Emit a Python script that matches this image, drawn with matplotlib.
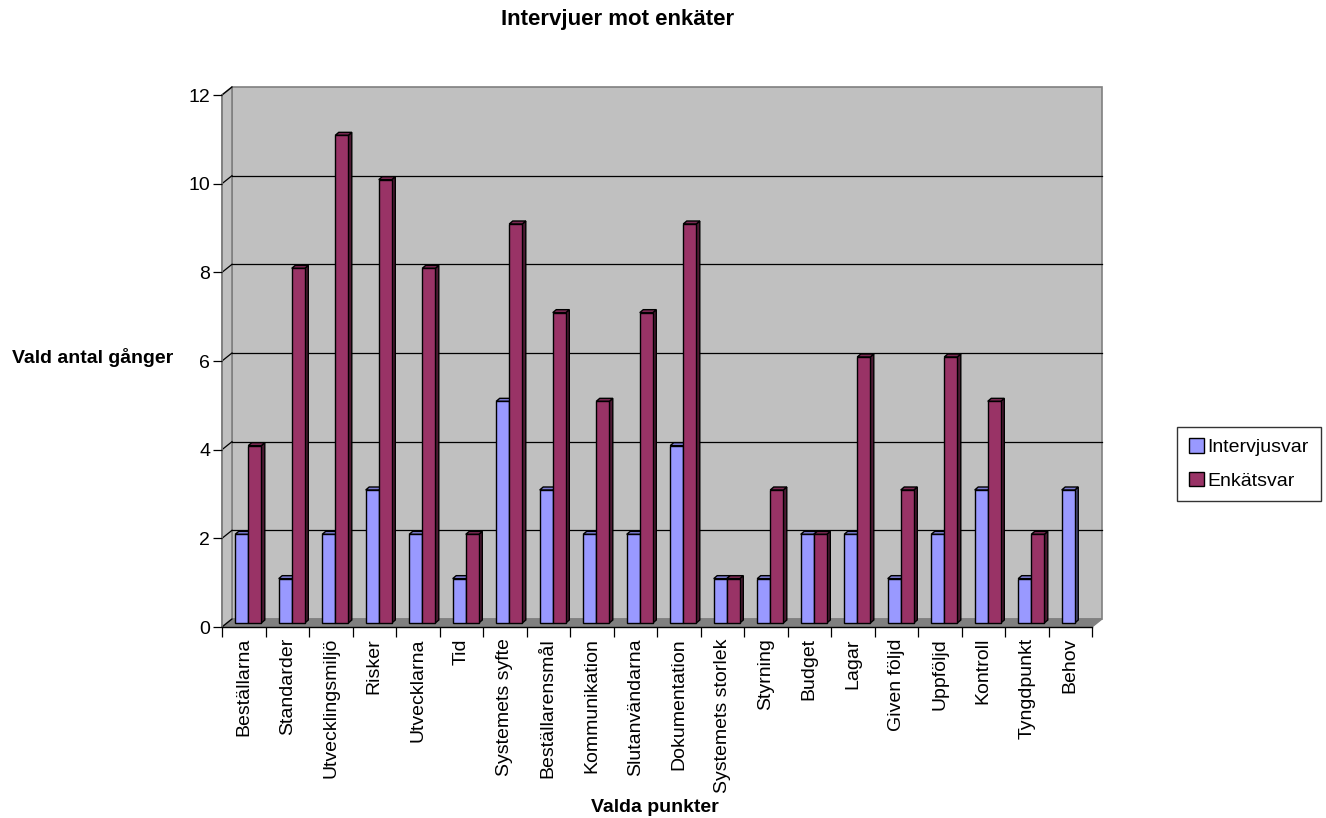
import matplotlib.pyplot as plt
from matplotlib.patches import Polygon, Patch

plt.rcParams['font.family'] = ['Liberation Sans', 'DejaVu Sans']

# -----------------------------------------------------------------------------
# Data
# -----------------------------------------------------------------------------
categories = ['Beställarna', 'Standarder', 'Utvecklingsmiljö', 'Risker', 'Utvecklarna',
              'Tid', 'Systemets syfte', 'Beställarensmål', 'Kommunikation', 'Slutanvändarna',
              'Dokumentation', 'Systemets storlek', 'Styrning', 'Budget', 'Lagar',
              'Given följd', 'Uppföljd', 'Kontroll', 'Tyngdpunkt', 'Behov']
intervju = [2, 1, 2, 3, 2, 1, 5, 3, 2, 2, 4, 1, 1, 2, 2, 1, 2, 3, 1, 3]
enkat = [4, 8, 11, 10, 8, 2, 9, 7, 5, 7, 9, 1, 3, 2, 6, 3, 6, 5, 2, 0]
series_names = ['Intervjusvar', 'Enkätsvar']
yticks = [0, 2, 4, 6, 8, 10, 12]

# colours: front, top, side
blue = ('#9999FF', '#7B7BD0', '#4D4D80')
plum = ('#993366', '#7A2952', '#4D1A33')

# -----------------------------------------------------------------------------
# Figure and front plane of the 3D box
# -----------------------------------------------------------------------------
W, H = 1326, 818
fig = plt.figure(figsize=(W / 100, H / 100), dpi=100)
ax_l, ax_b, ax_w, ax_h = 222, 627, 870, 532
ax = fig.add_axes([ax_l / W, (H - ax_b) / H, ax_w / W, ax_h / H])
n = len(categories)
ax.set_xlim(0, n)
ax.set_ylim(0, 12)
ax.patch.set_visible(False)

ux = n / ax_w      # data units per pixel
uy = 12 / ax_h

# wall depth and bar placement (pixels -> data)
wx, wy = 10 * ux, 8 * uy
mx, my = 4.5 * ux, 4 * uy
bx, by = 3.5 * ux, 3 * uy

# back wall, left wall, floor
ax.add_patch(Polygon([(wx, wy), (n + wx, wy), (n + wx, 12 + wy), (wx, 12 + wy)],
                     closed=True, fc='#C0C0C0', ec='#808080', lw=1.2, clip_on=False, zorder=0))
ax.add_patch(Polygon([(0, 0), (wx, wy), (wx, 12 + wy), (0, 12)],
                     closed=True, fc='#C0C0C0', ec='#808080', lw=1.2, clip_on=False, zorder=0))
ax.add_patch(Polygon([(0, 0), (n, 0), (n + wx, wy), (wx, wy)],
                     closed=True, fc='#808080', ec='#808080', lw=1, clip_on=False, zorder=0.5))

# gridlines on back wall and diagonals on left wall
for y in yticks:
    if 0 < y < 12:
        ax.plot([wx, n + wx], [y + wy, y + wy], color='black', lw=0.9, clip_on=False, zorder=0.6)
    ax.plot([0, wx], [y, y + wy], color='black', lw=0.9, clip_on=False, zorder=0.6)

# -----------------------------------------------------------------------------
# Bars
# -----------------------------------------------------------------------------
bw = 0.3


def bar3d(x0, h, cols, z):
    if h <= 0:
        return
    x0 += mx
    y0 = my
    y1 = my + h
    front = [(x0, y0), (x0 + bw, y0), (x0 + bw, y1), (x0, y1)]
    top = [(x0, y1), (x0 + bw, y1), (x0 + bw + bx, y1 + by), (x0 + bx, y1 + by)]
    side = [(x0 + bw, y0), (x0 + bw + bx, y0 + by), (x0 + bw + bx, y1 + by), (x0 + bw, y1)]
    for poly, c in [(side, cols[2]), (top, cols[1]), (front, cols[0])]:
        ax.add_patch(Polygon(poly, closed=True, fc=c, ec='black', lw=1,
                             clip_on=False, zorder=z, joinstyle='miter'))


for i in range(n):
    bar3d(i + 0.2, intervju[i], blue, 2 + i * 2)
    bar3d(i + 0.5, enkat[i], plum, 3 + i * 2)

# -----------------------------------------------------------------------------
# Axes, ticks, labels
# -----------------------------------------------------------------------------
for s in ['top', 'right']:
    ax.spines[s].set_visible(False)
ax.spines['left'].set_color('#808080')
ax.spines['left'].set_linewidth(1.2)
ax.spines['bottom'].set_color('black')
ax.spines['bottom'].set_linewidth(1)
ax.spines['left'].set_zorder(1)

ax.set_yticks(yticks)
ax.set_yticklabels([str(v) for v in yticks], fontsize=14)
ax.tick_params(axis='y', direction='out', length=6.5, width=0.9, color='black', pad=2)

ax.set_xticks(range(n + 1))
ax.set_xticklabels([''] * (n + 1))
ax.tick_params(axis='x', which='major', direction='out', length=7.5, width=0.9, color='black')
ax.set_xticks([i + 0.5 for i in range(n)], minor=True)
ax.set_xticklabels(categories, minor=True, rotation=90, fontsize=14, va='top', ha='center')
ax.tick_params(axis='x', which='minor', length=0, pad=8)

fig.text(618 / W, 1 - 20 / H, 'Intervjuer mot enkäter', fontsize=16, fontweight='bold',
         ha='center', va='center')
fig.text(93 / W, 1 - 358 / H, 'Vald antal gånger', fontsize=14, fontweight='bold',
         ha='center', va='center')
fig.text(655 / W, 1 - 807 / H, 'Valda punkter', fontsize=14, fontweight='bold',
         ha='center', va='center')

handles = [Patch(fc=blue[0], ec='black', lw=1), Patch(fc=plum[0], ec='black', lw=1)]
leg = fig.legend(handles, series_names, loc='center', bbox_to_anchor=(1249 / W, 1 - 464 / H),
                 fontsize=14, frameon=True, fancybox=False, edgecolor='black',
                 handlelength=0.75, handleheight=0.75, handletextpad=0.2,
                 labelspacing=0.8, borderpad=0.6, borderaxespad=0)
leg.get_frame().set_linewidth(1)

fig.savefig('out.png', dpi=100, facecolor='white')
